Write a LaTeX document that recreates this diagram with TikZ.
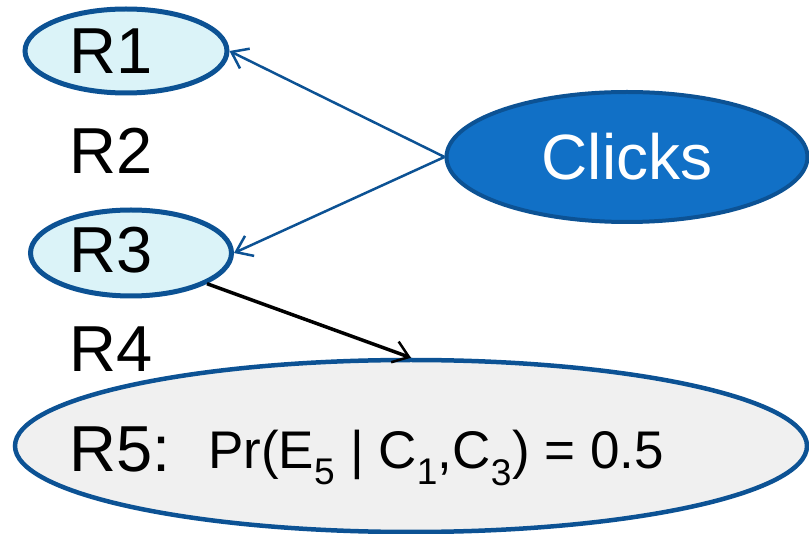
\documentclass[tikz,border=0pt]{standalone}
\usepackage{fontspec}
\setmainfont{Liberation Sans}
\usetikzlibrary{arrows.meta,shapes.geometric}
\definecolor{rimblue}{RGB}{12,82,148}
\definecolor{paleblue}{RGB}{219,243,248}
\definecolor{clickblue}{RGB}{17,112,198}
\definecolor{palegray}{RGB}{240,240,240}
\tikzset{
  oval/.style={ellipse, draw=rimblue, line width=5pt, inner sep=0pt},
  rowlabel/.style={anchor=base west, inner sep=0pt, font=\fontsize{65}{65}\selectfont},
  barb/.style={-{Straight Barb[length=15pt,width=22pt,line width=2.5pt]}},
}
\begin{document}
\begin{tikzpicture}[x=1pt,y=-1pt]
\useasboundingbox (0,0) rectangle (809,534);
% ovals behind the rows
\node[oval, fill=paleblue, minimum width=202pt, minimum height=84pt] (r1) at (126,51) {};
\node[oval, fill=paleblue, minimum width=201pt, minimum height=86pt] (r3) at (131,253) {};
\node[oval, fill=palegray, line width=4.5pt, minimum width=792pt, minimum height=172pt] (r5) at (411,446) {};
\node[oval, fill=clickblue, draw=rimblue, line width=4pt, minimum width=361pt, minimum height=130pt,
      text=white, font=\fontsize{64}{64}\selectfont] (clicks) at (627,157) {Clicks};
% row labels
\node[rowlabel] (t1) at (69,74) {R1};
\node[rowlabel] (t2) at (69,174) {R2};
\node[rowlabel] (t3) at (69,273) {R3};
\node[rowlabel] (t4) at (69,372) {R4};
\node[rowlabel] (t5) at (69,472) {R5:};
\node[anchor=base west, inner sep=0pt, font=\fontsize{53}{53}\selectfont] (pr) at (208,468)
  {Pr(E$_{\mathrm{5}}$ | C$_{\mathrm{1}}$,C$_{\mathrm{3}}$) = 0.5};
% connectors
\draw[barb, draw=rimblue, line width=2.5pt] (clicks.west) -- (r1.east);
\draw[barb, draw=rimblue, line width=2.5pt] (clicks.west) -- (r3.east);
\draw[barb, draw=black, line width=3.5pt] (r3.-22) -- (r5.north);
\end{tikzpicture}
\end{document}
